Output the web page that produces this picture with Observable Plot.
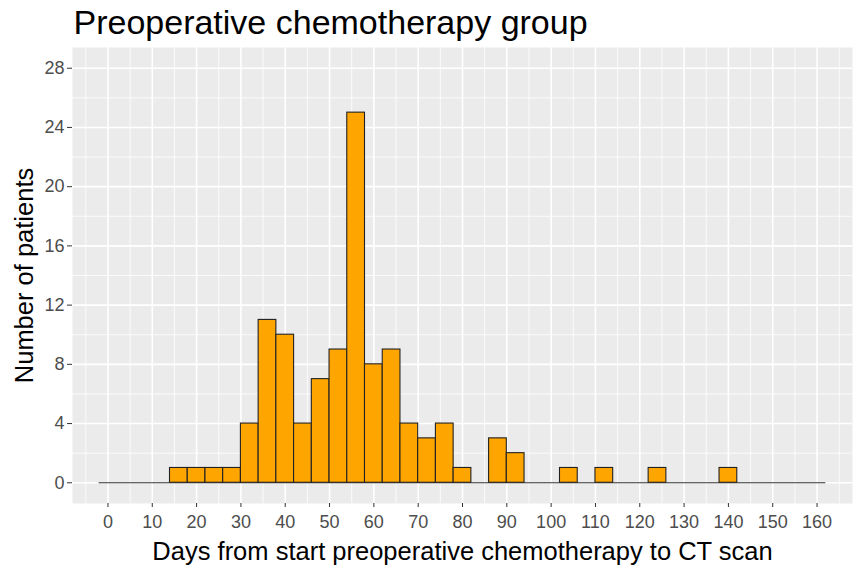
<!DOCTYPE html>
<html><head><meta charset="utf-8">
<script src="https://cdn.jsdelivr.net/npm/d3@7"></script>
<script src="https://cdn.jsdelivr.net/npm/@observablehq/plot@0.6"></script>
<style>body{margin:0;background:#fff;}</style>
</head><body><div id="chart"></div>
<script>
const title = "Preoperative chemotherapy group";
const xLabel = "Days from start preoperative chemotherapy to CT scan";
const yLabel = "Number of patients";
const binWidth = 4;
const firstBinCenter = 0;
const counts = [0,0,0,0,1,1,1,1,4,11,10,4,7,9,25,8,9,4,3,4,1,0,3,2,0,0,1,0,1,0,0,1,0,0,0,1,0,0,0,0,0];
const xTicks = [0,10,20,30,40,50,60,70,80,90,100,110,120,130,140,150,160];
const xMinor = [-5,5,15,25,35,45,55,65,75,85,95,105,115,125,135,145,155,165];
const yTicks = [0,4,8,12,16,20,24,28];
const yMinor = [2,6,10,14,18,22,26];

const bins = counts.map((c, i) => ({
  x1: firstBinCenter + i * binWidth - binWidth / 2,
  x2: firstBinCenter + i * binWidth + binWidth / 2,
  count: c
}));
const first = bins[0].x1, last = bins[bins.length - 1].x2;

const plot = Plot.plot({
  width: 854, height: 568,
  marginLeft: 72, marginRight: 2, marginTop: 47, marginBottom: 65,
  x: {domain: [-8, 168]},
  y: {domain: [-1.4, 29.4]},
  style: {fontFamily: "'Liberation Sans', Arial, sans-serif", background: "#fff", overflow: "visible"},
  marks: [
    Plot.frame({fill: "#EBEBEB"}),
    Plot.ruleX(xMinor, {stroke: "#fff", strokeWidth: 0.8}),
    Plot.ruleY(yMinor, {stroke: "#fff", strokeWidth: 0.8}),
    Plot.ruleX(xTicks, {stroke: "#fff", strokeWidth: 1.6}),
    Plot.ruleY(yTicks, {stroke: "#fff", strokeWidth: 1.6}),
    Plot.ruleY([0], {x1: first, x2: last, stroke: "#333", strokeWidth: 1.2}),
    Plot.rectY(bins.filter(d => d.count > 0), {x1: "x1", x2: "x2", y1: 0, y2: "count", fill: "#FFA500", stroke: "#222", strokeWidth: 1.1}),
    Plot.axisX({ticks: xTicks, tickSize: 4, tickPadding: 8, fontSize: 18, stroke: "#333", fill: "#4D4D4D", label: null}),
    Plot.axisY({ticks: yTicks, tickSize: 5, tickPadding: 3, fontSize: 18, stroke: "#333", fill: "#4D4D4D", label: null}),
    Plot.text([title], {frameAnchor: "top-left", textAnchor: "start", lineAnchor: "bottom", dx: 1, dy: -14, fontSize: 34, fill: "#000"}),
    Plot.text([yLabel], {frameAnchor: "left", textAnchor: "middle", rotate: -90, dx: -48, fontSize: 25.5, fill: "#000"}),
    Plot.text([xLabel], {frameAnchor: "bottom", textAnchor: "middle", lineAnchor: "bottom", dy: 56, fontSize: 25.5, fill: "#000"})
  ]
});
document.getElementById("chart").appendChild(plot);
</script>
</body></html>
